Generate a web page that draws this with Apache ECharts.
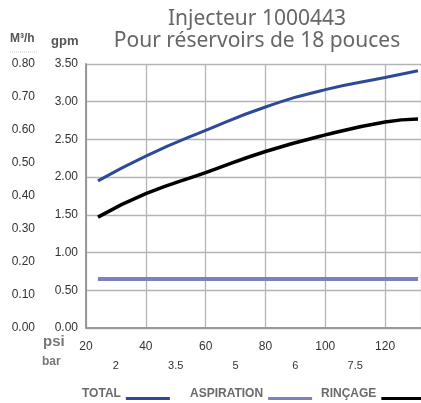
<!DOCTYPE html>
<html>
<head>
<meta charset="utf-8">
<script src="https://cdn.jsdelivr.net/npm/echarts@6/dist/echarts.min.js"></script>
<style>html,body{margin:0;padding:0;background:#fff;}#c{width:421px;height:403px;}</style>
</head>
<body>
<div id="c"></div>
<script>
// ---- data ----
const psi        = [24, 40, 60, 80, 100, 120, 131];
const total      = [1.95, 2.28, 2.62, 2.93, 3.16, 3.32, 3.41];
const rincage    = [1.47, 1.78, 2.06, 2.34, 2.56, 2.73, 2.77];
const aspiration = [0.65, 0.65, 0.65, 0.65, 0.65, 0.65, 0.65];
const barPsi     = [30, 50, 70, 90, 110];
const barLabels  = ['2', '3.5', '5', '6', '7.5'];
const seriesNames = ['TOTAL', 'ASPIRATION', 'RINÇAGE'];
const titleLines = ['Injecteur 1000443', 'Pour réservoirs de 18 pouces'];

const pair = (ys) => psi.map((x, i) => [x, ys[i]]);
const tickFont = 'Liberation Sans, Arial, sans-serif';
const headFont = 'Liberation Sans, Arial, sans-serif';

const chart = echarts.init(document.getElementById('c'), null, {renderer: 'canvas'});
const legendIcon = 'path://M0,0h0.05v0.05h-0.05z M0,10h44v3h-44z';
const legendBase = {
  orient: 'horizontal', align: 'right', padding: 0, top: 387,
  itemWidth: 44, itemHeight: 13, itemGap: 0, icon: legendIcon,
  textStyle: {fontFamily: headFont, fontWeight: 'bold', fontSize: 12, color: '#6a6a6a'}
};
chart.setOption({
  animation: false,
  title: {
    text: titleLines.join('\n'),
    left: 252, top: 3, textAlign: 'center',
    textStyle: {fontFamily: 'Noto Sans', fontWeight: 'normal', fontSize: 21, lineHeight: 22, color: '#666'}
  },
  legend: [
    Object.assign({}, legendBase, {left: 82, data: [seriesNames[0]]}),
    Object.assign({}, legendBase, {left: 190, data: [seriesNames[1]]}),
    Object.assign({}, legendBase, {left: 321, data: [seriesNames[2]]})
  ],
  grid: {left: 86, top: 64, right: -2, bottom: 75, containLabel: false},
  xAxis: [
    {
      type: 'value', min: 20, max: 132, interval: 20,
      axisLine: {show: true, lineStyle: {color: '#999', width: 2}},
      axisTick: {show: false},
      splitLine: {show: true, lineStyle: {color: '#b4b4b4', width: 1.3}},
      axisLabel: {
        margin: 13, fontFamily: tickFont, fontSize: 12, color: '#333',
        showMaxLabel: false,
        formatter: v => (v % 20 === 0 ? String(v) : '')
      }
    },
    {
      type: 'value', min: 20, max: 132, interval: 10, position: 'bottom',
      axisLine: {show: false}, axisTick: {show: false}, splitLine: {show: false},
      axisLabel: {
        margin: 32, fontFamily: tickFont, fontSize: 11, color: '#333',
        showMaxLabel: false,
        formatter: v => { const i = barPsi.indexOf(v); return i >= 0 ? barLabels[i] : ''; }
      }
    }
  ],
  yAxis: [
    {
      type: 'value', min: 0, max: 3.5, interval: 0.5, position: 'left',
      axisLine: {show: true, lineStyle: {color: '#999', width: 2}},
      axisTick: {show: false},
      splitLine: {show: true, lineStyle: {color: '#b4b4b4', width: 1.3}},
      axisLabel: {margin: 8, fontFamily: tickFont, fontSize: 12, color: '#333', formatter: v => v.toFixed(2)}
    },
    {
      type: 'value', min: 0, max: 0.8, interval: 0.1, position: 'left', offset: 43,
      axisLine: {show: false}, axisTick: {show: false}, splitLine: {show: false},
      axisLabel: {margin: 8, fontFamily: tickFont, fontSize: 12, color: '#333', formatter: v => v.toFixed(2)}
    }
  ],
  series: [
    {name: seriesNames[0], type: 'line', smooth: true, symbol: 'none', data: pair(total),
     lineStyle: {color: '#2c4a96', width: 3}, itemStyle: {color: '#2c4a96'}},
    {name: seriesNames[1], type: 'line', smooth: true, symbol: 'none', data: pair(aspiration),
     lineStyle: {color: '#7c80bd', width: 4}, itemStyle: {color: '#7c80bd'}},
    {name: seriesNames[2], type: 'line', smooth: true, symbol: 'none', data: pair(rincage),
     lineStyle: {color: '#000', width: 3.5}, itemStyle: {color: '#000'}}
  ],
  graphic: [
    {type: 'text', left: 10, top: 33, style: {text: 'M³/h', font: 'bold 12px ' + headFont, fill: '#555'}},
    {type: 'text', left: 51, top: 35, style: {text: 'gpm', font: 'bold 13px ' + headFont, fill: '#555'}},
    {type: 'line', shape: {x1: 10, y1: 52, x2: 37, y2: 52}, style: {stroke: '#ccc', lineWidth: 1, lineDash: [1, 1]}},
    {type: 'text', left: 43, top: 334, style: {text: 'psi', font: 'bold 15px ' + headFont, fill: '#777'}},
    {type: 'text', left: 42, top: 356, style: {text: 'bar', font: 'bold 12px ' + headFont, fill: '#777'}}
  ]
});
</script>
</body>
</html>
